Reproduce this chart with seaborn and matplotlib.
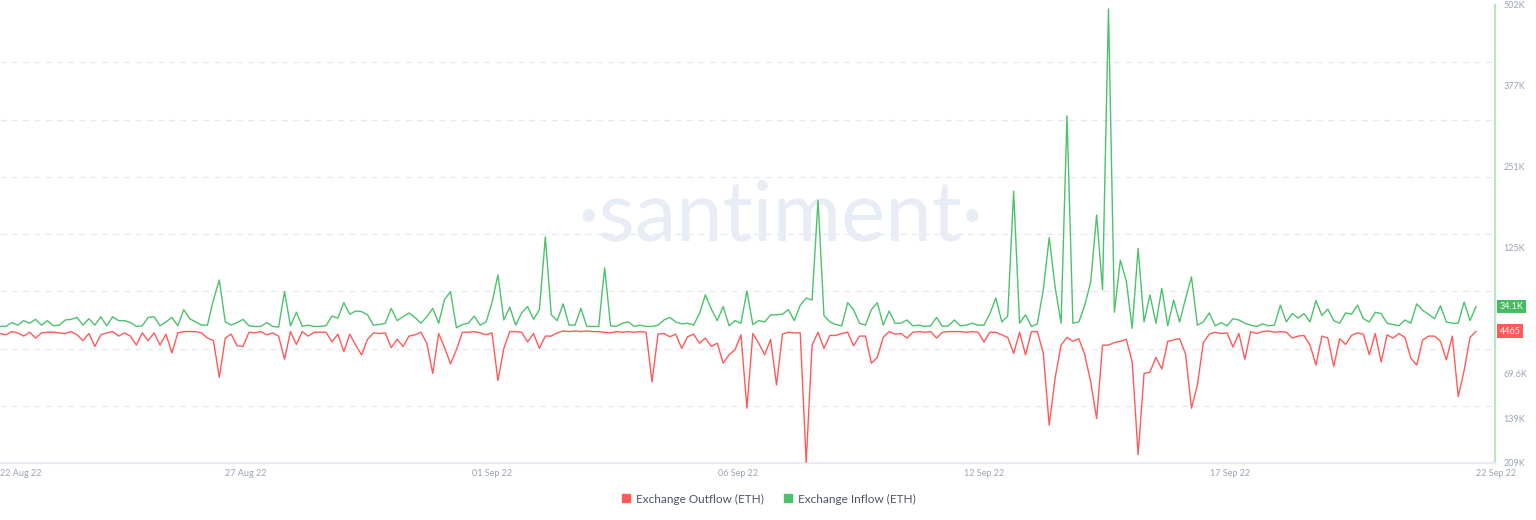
import numpy as np
import pandas as pd
import matplotlib
matplotlib.use("Agg")
import matplotlib.pyplot as plt
import matplotlib.transforms as mtransforms
from matplotlib.lines import Line2D
import seaborn as sns

# 3-hourly samples, 22 Aug 06:00 -> 22 Sep, values in thousands of ETH
start = "2022-08-22 06:00"
step = "3h"

inflow_k = [
    3, 3, 9, 5, 12, 8, 14, 5, 12, 4,
    5, 13, 14, 17, 5, 15, 5, 18, 4, 18,
    12, 12, 9, 3, 4, 17, 18, 4, 10, 17,
    4, 29, 15, 10, 5, 5, 44, 75, 10, 5,
    9, 14, 4, 3, 3, 9, 3, 2, 57, 4,
    25, 3, 5, 3, 3, 4, 19, 16, 40, 22,
    27, 26, 21, 5, 6, 8, 31, 12, 18, 24,
    17, 8, 18, 31, 8, 45, 57, 1, 6, 8,
    19, 5, 10, 40, 83, 13, 33, 5, 24, 34,
    14, 29, 142, 21, 12, 38, 5, 5, 31, 3,
    3, 3, 94, 4, 3, 8, 10, 3, 5, 3,
    3, 5, 13, 17, 10, 7, 8, 5, 23, 52,
    30, 12, 34, 4, 12, 8, 58, 6, 12, 10,
    21, 21, 22, 29, 12, 36, 47, 44, 199, 20,
    10, 6, 4, 40, 29, 8, 5, 29, 40, 5,
    27, 8, 8, 13, 4, 5, 3, 4, 17, 3,
    4, 13, 4, 5, 8, 5, 5, 23, 47, 10,
    19, 213, 8, 21, 3, 7, 60, 141, 64, 8,
    330, 8, 10, 36, 72, 176, 60, 496, 25, 106,
    74, 0, 124, 10, 52, 8, 62, 4, 44, 10,
    46, 80, 5, 10, 24, 4, 9, 4, 15, 13,
    8, 5, 3, 7, 4, 5, 36, 10, 23, 16,
    23, 10, 43, 20, 30, 12, 8, 24, 22, 36,
    15, 10, 25, 23, 8, 6, 4, 13, 8, 38,
    28, 22, 15, 35, 10, 8, 8, 41, 12, 34.1,
]

outflow_k = [
    8, 10, 5, 7, 12, 6, 15, 7, 6, 6,
    7, 8, 5, 10, 19, 8, 28, 10, 7, 5,
    12, 7, 12, 26, 7, 19, 7, 26, 9, 38,
    7, 5, 5, 5, 7, 15, 19, 76, 15, 9,
    27, 28, 6, 7, 5, 10, 7, 12, 48, 5,
    25, 5, 12, 6, 6, 6, 21, 9, 36, 9,
    26, 41, 17, 7, 8, 7, 30, 17, 28, 12,
    10, 6, 23, 70, 8, 30, 55, 33, 6, 6,
    5, 7, 10, 7, 81, 31, 5, 5, 6, 21,
    8, 31, 12, 12, 7, 4, 5, 4, 5, 4,
    5, 5, 6, 7, 5, 6, 5, 6, 5, 6,
    83, 9, 8, 13, 9, 31, 13, 9, 23, 15,
    28, 23, 54, 41, 33, 10, 124, 8, 23, 41,
    17, 88, 9, 6, 7, 7, 208, 26, 6, 31,
    11, 11, 8, 6, 27, 12, 12, 54, 45, 14,
    5, 9, 8, 15, 6, 5, 6, 5, 15, 6,
    5, 5, 5, 6, 5, 6, 21, 6, 6, 10,
    14, 39, 6, 41, 5, 5, 38, 150, 77, 26,
    14, 20, 16, 41, 83, 140, 26, 26, 22, 20,
    17, 52, 196, 70, 68, 45, 63, 20, 18, 16,
    40, 124, 88, 22, 9, 6, 8, 7, 29, 8,
    48, 5, 8, 5, 4, 6, 5, 6, 15, 12,
    11, 26, 57, 12, 15, 59, 16, 25, 11, 7,
    9, 41, 8, 52, 10, 15, 8, 14, 46, 57,
    18, 12, 12, 20, 49, 12, 106, 65, 14, 4.465,
]

x_tick_labels = ["22 Aug 22", "27 Aug 22", "01 Sep 22", "06 Sep 22",
                 "12 Sep 22", "17 Sep 22", "22 Sep 22"]
y_tick_values = [502000, 376500, 251000, 125500, -69600, -139300, -209000]
y_tick_labels = ["502K", "377K", "251K", "125K", "69.6K", "139K", "209K"]
inflow_tag = "34.1K"
outflow_tag = "4465"
series_names = ["Exchange Outflow (ETH)", "Exchange Inflow (ETH)"]

GREEN = "#4cc26c"
RED = "#ff5a5a"
GRID = "#e4e8f0"
TICK = "#9aa3b8"

times = pd.date_range(start, periods=len(inflow_k), freq=step)
df = pd.DataFrame({
    "time": times,
    "inflow": np.array(inflow_k) * 1000,
    "outflow": -np.array(outflow_k) * 1000,
})

sns.set_theme(style="white")
plt.rcParams["font.family"] = ["Lato", "DejaVu Sans"]

fig = plt.figure(figsize=(15.36, 5.2), dpi=100)
ax = fig.add_axes([0.0, 57 / 520, 1495 / 1536, 458 / 520])

sns.lineplot(data=df, x="time", y="inflow", color=GREEN, linewidth=1.0, ax=ax, zorder=3)
sns.lineplot(data=df, x="time", y="outflow", color=RED, linewidth=1.0, ax=ax, zorder=3)

ax.set_ylim(-209000, 502000)
t0, t1 = times[0], times[-1]
ax.set_xlim(t0, t0 + (t1 - t0) * (1495 / 1476))
ax.set_xlabel("")
ax.set_ylabel("")

# x ticks: evenly spaced over the data span
xt = pd.date_range(t0, t1, periods=len(x_tick_labels))
ax.set_xticks(xt)
ax.set_xticklabels(x_tick_labels)
shift = mtransforms.ScaledTranslation(4 / 100, 0, fig.dpi_scale_trans)
for i, lab in enumerate(ax.get_xticklabels()):
    if i in (0, len(x_tick_labels) - 1):
        lab.set_ha("left")
    if i == 0:
        lab.set_transform(lab.get_transform() + shift)
ax.set_xticks(xt[:-1], minor=True)
ax.tick_params(axis="x", which="both", length=0, pad=4, labelsize=6.5, labelcolor=TICK)

# y ticks on the right, absolute values on both sides of zero
ax.yaxis.tick_right()
ax.set_yticks(y_tick_values)
ax.set_yticklabels(y_tick_labels)
ax.set_yticks(np.linspace(-209000, 502000, 9), minor=True)
ax.tick_params(axis="y", which="both", length=0, pad=6, labelsize=6.5, labelcolor=TICK)

ax.grid(False)
ax.grid(True, which="minor", color=GRID, linestyle=(0, (5, 4)), linewidth=0.9, zorder=0)

for s in ["top", "left"]:
    ax.spines[s].set_visible(False)
ax.spines["right"].set_color("#b9e6c5")
ax.spines["right"].set_linewidth(1.6)
ax.spines["bottom"].set_color("#e9ecf3")
ax.spines["bottom"].set_linewidth(1.6)

# watermark
ax.text(0.522, 0.535, "\u00b7santiment\u00b7", transform=ax.transAxes, ha="center", va="center",
        fontsize=60, color="#e8ecf5", fontweight="normal", zorder=1)

# last-value tags
tr = mtransforms.blended_transform_factory(ax.transAxes, ax.transData)
ax.text(1.003, df["inflow"].iloc[-1], inflow_tag, transform=tr, ha="left", va="center",
        fontsize=6.5, color="white", zorder=5, clip_on=False,
        bbox=dict(boxstyle="square,pad=0.25", fc="#45bb62", ec="none"))
ax.text(1.003, df["outflow"].iloc[-1], outflow_tag, transform=tr, ha="left", va="center",
        fontsize=6.5, color="white", zorder=5, clip_on=False,
        bbox=dict(boxstyle="square,pad=0.25", fc=RED, ec="none"))

handles = [
    Line2D([], [], marker="s", linestyle="none", color=RED, markersize=6),
    Line2D([], [], marker="s", linestyle="none", color=GREEN, markersize=6),
]
fig.legend(handles, series_names, loc="center", bbox_to_anchor=(768 / 1536, 1 - 499 / 520),
           ncol=2, frameon=False, fontsize=8.5, labelcolor="#4f5468",
           handletextpad=0.3, columnspacing=1.6, handlelength=1.0)

fig.savefig("out.png", dpi=100, facecolor="white")
